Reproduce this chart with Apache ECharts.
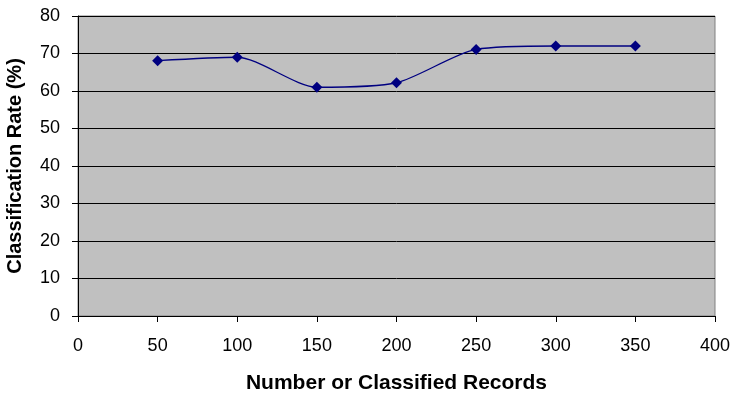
<!DOCTYPE html>
<html><head><meta charset="utf-8">
<script src="https://cdn.jsdelivr.net/npm/echarts@6/dist/echarts.min.js"></script>
<style>html,body{margin:0;padding:0;background:#fff}#c{width:733px;height:395px}</style>
</head><body><div id="c"></div>
<script>
var xValues = [50, 100, 150, 200, 250, 300, 350];
var rates = [68.1, 69, 61, 62.2, 71.1, 72, 72];
var xTicks = [0, 50, 100, 150, 200, 250, 300, 350, 400];
var yTicks = [0, 10, 20, 30, 40, 50, 60, 70, 80];

var chart = echarts.init(document.getElementById('c'));
chart.setOption({
  animation: false,
  grid: {left: 78, right: 18, top: 16, bottom: 79, containLabel: false, outerBoundsMode: 'none', show: true, backgroundColor: '#c0c0c0', borderColor: '#808080', borderWidth: 1},
  xAxis: {
    type: 'value', min: 0, max: 400, interval: 50,
    name: 'Number or Classified Records', nameLocation: 'middle', nameGap: 57,
    nameTextStyle: {fontFamily: 'Liberation Sans', fontWeight: 'bold', fontSize: 21, color: '#000'},
    axisLine: {show: true, lineStyle: {color: '#000', width: 1}},
    axisTick: {show: true, inside: false, length: 6, lineStyle: {color: '#000'}},
    axisLabel: {fontFamily: 'Liberation Sans', fontSize: 18, color: '#000', margin: 21},
    splitLine: {show: false}
  },
  yAxis: {
    type: 'value', min: 0, max: 80, interval: 10,
    name: 'Classification Rate (%)', nameLocation: 'middle', nameGap: 53,
    nameTextStyle: {fontFamily: 'Liberation Sans', fontWeight: 'bold', fontSize: 20, color: '#000'},
    axisLine: {show: true, lineStyle: {color: '#000', width: 1}},
    axisTick: {show: true, inside: false, length: 6, lineStyle: {color: '#000'}},
    axisLabel: {fontFamily: 'Liberation Sans', fontSize: 18, color: '#000', margin: 18},
    splitLine: {show: true, lineStyle: {color: '#000', width: 1}}
  },
  series: [{
    type: 'line',
    data: xValues.map(function (x, i) { return [x, rates[i]]; }),
    smooth: 0.25,
    symbol: 'diamond', symbolSize: 11,
    lineStyle: {color: '#000080', width: 1.3},
    itemStyle: {color: '#000080'}
  }]
});
</script></body></html>
